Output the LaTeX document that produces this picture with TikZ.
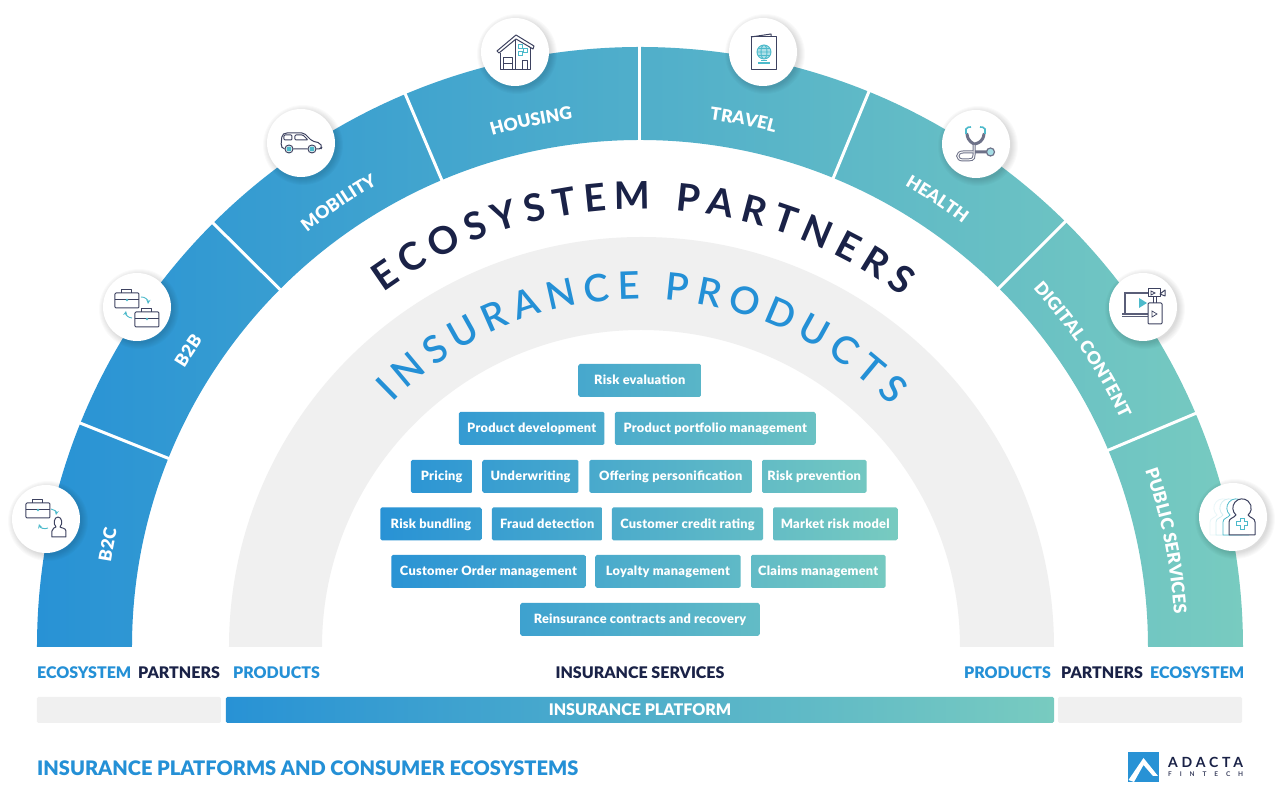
\documentclass[tikz,border=0pt]{standalone}
\usepackage{fontspec}
\setmainfont{Lato}
\newfontfamily\heavyfont{Lato Black}
\newfontfamily\midfont{Lato Semibold}
\usetikzlibrary{decorations.text,calc}
\definecolor{bandl}{HTML}{2892D5}
\definecolor{bandr}{HTML}{78CBC0}
\definecolor{navy}{HTML}{1A2247}
\definecolor{skyblue}{HTML}{2490D6}
\definecolor{greyarc}{HTML}{F0F0F0}
\definecolor{iconink}{HTML}{3D4260}
\definecolor{iconteal}{HTML}{4DBACB}
\tikzstyle{bandtext}=[font=\heavyfont\fontsize{16}{16}\selectfont,inner sep=0pt]
\tikzstyle{iconbg}=[circle,fill=white,minimum size=68pt,inner sep=0pt]
\tikzstyle{iconline}=[iconink,line width=1pt,line join=round]
\tikzstyle{iconaccent}=[iconteal,line width=0.9pt]
\tikzstyle{boxtext}=[text=white,font=\heavyfont\fontsize{12.8}{12}\selectfont\addfontfeature{LetterSpace=2},inner sep=0pt,rounded corners=1.5pt,minimum height=33pt,text height=9pt,text depth=0pt]
\newcommand{\seclabel}[3][532]{% [radius] {middle angle} {text}
\path[decorate,decoration={text along path,text align=center,text={|\heavyfont\fontsize{17.5}{18}\selectfont\color{white}|#3}}] (#2+32:#1) arc (#2+32:#2-32:#1);
}
\newcommand{\iconbubble}[3]{% name, x, y
\foreach \k in {1,...,7} {
  \fill[black,opacity=0.018] (#2+2,#3-2) circle (33+\k);
}
\node[iconbg] (#1) at (#2,#3) {};
}
\newcommand{\prodbox}[5]{% name, left, right, top row y, text
\pgfmathsetmacro{\bx}{(#2+#3)/2-640}
\pgfmathsetmacro{\by}{647-#4-16.5}
\pgfmathsetmacro{\bw}{#3-#2}
\pgfmathsetmacro{\pl}{(#2-380)/5.2}
\pgfmathsetmacro{\pr}{(#3-380)/5.2}
\colorlet{boxleft}{bandr!\pl!bandl}
\colorlet{boxright}{bandr!\pr!bandl}
\node[boxtext,left color=boxleft,right color=boxright,minimum width=\bw pt] (#1) at (\bx,\by) {#5};
}
\newcommand{\drawcase}[2]{% briefcase, lower left corner
\draw[iconline,rounded corners=1pt] (#1,#2) rectangle ++(24,15);
\draw[iconline] (#1,#2+8) -- ++(24,0);
\draw[iconline] (#1+7,#2+15) -- ++(0,3) -- ++(10,0) -- ++(0,-3);
\fill[iconteal] (#1+12,#2+8) circle (1.3);
}
\newcommand{\drawperson}[3]{% colour, x offset, line width
\draw[#1,line width=#3,line join=round,fill=white] (#2-4,-18) -- (#2-4,-5) .. controls (#2-4,-1) and (#2+1,-1) .. (#2+3,2) arc[start angle=229,delta angle=-278,radius=9.2] .. controls (#2+17,-1) and (#2+22,-1) .. (#2+22,-5) -- (#2+22,-18) -- cycle;
}
\begin{document}
\begin{tikzpicture}[x=1pt,y=1pt]
	\useasboundingbox (-640,-163) rectangle (640,647);
	\fill[white] (-640,-163) rectangle (640,647);
	% arcs
	\shade[left color=bandl,right color=bandr] (-603,0) arc (180:0:603 and 600) -- (508,0) arc (0:180:508 and 507) -- cycle;
	\fill[greyarc] (-411,0) arc (180:0:412.5 and 410) -- (320,0) arc (0:180:319 and 317) -- cycle;
	\foreach \a in {22.8,45,67.6,90,113,135.2,158.2} {
		\draw[white,line width=3pt] (\a:505) -- (\a:606);
	}
	\seclabel[536]{169.1}{B2C}
	\seclabel[534]{146.75}{B2B}
	\seclabel{124.15}{MOBILITY}
	\seclabel{101.7}{HOUSING}
	\seclabel{78.9}{TRAVEL}
	\seclabel{56.4}{HEALTH}
	\seclabel{33.9}{DIGITAL CONTENT}
	\seclabel[535]{11.4}{PUBLIC SERVICES}
	\path[decorate,decoration={text along path,text align={fit to path},text={|\bfseries\fontsize{38}{38}\selectfont\color{navy}|ECOSYSTEM PARTNERS}}] (125.9:438) arc (125.9:53.2:438);
	\path[decorate,decoration={text along path,text align={fit to path},text={|\midfont\fontsize{38}{38}\selectfont\color{skyblue}|INSURANCE PRODUCTS}}] (135.3:348) arc (135.3:43.8:348);
	% icons
	\iconbubble{icoBtoC}{-594}{128}
	\iconbubble{icoBtoB}{-503}{340}
	\iconbubble{icoMobility}{-339}{504}
	\iconbubble{icoHousing}{-125}{595}
	\iconbubble{icoTravel}{123}{595}
	\iconbubble{icoHealth}{336}{503}
	\iconbubble{icoDigital}{503}{340}
	\iconbubble{icoPublic}{593}{130}
	\begin{scope}[shift={(icoBtoC.center)}]
		\drawcase{-20}{1}
		\draw[iconaccent,->,>=stealth] (5,10) to[bend left=50] (10,4);
		\draw[iconaccent,->,>=stealth] (2,-9) to[bend left=50] (-7,-5);
		\draw[iconline] (6,-18) -- (6,-12) .. controls (6,-9) and (9,-9) .. (10,-8) .. controls (7,-5) and (8,2) .. (12,2) .. controls (16,2) and (17,-5) .. (14,-8) .. controls (15,-9) and (20,-9) .. (20,-12) -- (20,-18) -- cycle;
	\end{scope}
	\begin{scope}[shift={(icoBtoB.center)}]
		\drawcase{-22}{-1}
		\drawcase{-2}{-20}
		\draw[iconaccent,->,>=stealth] (4,10) to[bend left=50] (11,3);
		\draw[iconaccent,->,>=stealth] (-5,-11) to[bend left=50] (-11,-4);
	\end{scope}
	\begin{scope}[shift={(icoMobility.center)}]
		\draw[iconline,rounded corners=2pt] (-18,-6) -- (-20,-3) -- (-19,8) -- (-16,10) -- (3,10) -- (11,2) -- (19,0) -- (21,-4) -- (20,-6) -- cycle;
		\draw[iconline,rounded corners=1pt] (-17,3) rectangle (-9,8);
		\draw[iconline,rounded corners=1pt] (-6,3) -- (-6,8) -- (2,8) -- (7,3) -- cycle;
		\fill[white] (-12,-6) circle (4.5) (11,-6) circle (4.5);
		\draw[iconline] (-12,-6) circle (4) (11,-6) circle (4);
		\fill[iconteal] (-12,-6) circle (2.5) (11,-6) circle (2.5);
	\end{scope}
	\begin{scope}[shift={(icoHousing.center)}]
		\draw[iconline] (-18,1) -- (1,17) -- (19,6) -- (18,3) -- (1,13) -- (-16,-1) -- cycle;
		\draw[iconline] (-14,-1) -- (-14,-18) -- (16,-18) -- (16,4);
		\draw[iconline] (1,13) -- (1,-18);
		\draw[iconline] (-11,-18) -- (-11,-6) -- (-2,-6) -- (-2,-18);
		\draw[iconline] (-11,-12) -- (-2,-12);
		\draw[iconline] (8,-18) -- (8,-9) -- (13,-9) -- (13,-18);
		\draw[iconaccent] (3,4) rectangle (7,8) (8,0) rectangle (12,4) (3,-3) rectangle (7,1);
	\end{scope}
	\begin{scope}[shift={(icoTravel.center)}]
		\draw[iconline] (-12,15) -- (-12,-18) -- (13,-18) -- (13,15) -- cycle;
		\draw[iconline] (-12,15) -- (8,18) -- (8,15);
		\fill[iconteal!45] (1,0) circle (7);
		\draw[iconaccent] (1,0) circle (7) (1,0) ellipse (3 and 7) (-6,0) -- (8,0) (-5,3.5) -- (7,3.5) (-5,-3.5) -- (7,-3.5);
		\draw[iconaccent,line width=1.2pt] (-5,-11) -- (7,-11);
		\draw[iconaccent,line width=0.5pt] (-2,-8.5) -- (4,-8.5);
	\end{scope}
	\begin{scope}[shift={(icoHealth.center)}]
		\draw[iconink!75,line width=3pt,line cap=round] (-9,10) .. controls (-8,2) and (-3,1) .. (-2,0) -- (-2,-11) .. controls (-2,-16) and (-4,-16) .. (-13,-16) .. controls (-20,-16) and (-20,-8) .. (-13,-8) -- (11,-8);
		\draw[iconink!75,line width=3pt,line cap=round] (8,10) .. controls (7,2) and (2,1) .. (-1,0);
		\draw[white,line width=1pt] (-2,-1) -- (-2,-11) .. controls (-2,-16) and (-4,-16) .. (-13,-16) .. controls (-20,-16) and (-20,-8) .. (-13,-8) -- (-3,-8);
		\draw[iconteal,line width=1.6pt] (-10,10) -- (-10,15) to[bend left=30] (-5,17) (9,10) -- (9,15) to[bend right=30] (4,17);
		\fill[iconteal!50] (14.5,-8) circle (4);
		\draw[iconink!75,line width=1.2pt] (14.5,-8) circle (4);
	\end{scope}
	\begin{scope}[shift={(icoDigital.center)}]
		\draw[iconink!85,line width=1.2pt] (5,14) -- (-18,14) -- (-18,-6);
		\draw[iconink!85,line width=1.2pt] (-21,-7) -- (5,-7) (-21,-9.5) -- (5,-9.5);
		\fill[iconteal] (-4,9) -- (4,4) -- (-4,-1) -- cycle;
		\draw[iconline] (5,10) rectangle (17,18);
		\draw[iconline] (17,13) -- (22,17) -- (22,11) -- cycle;
		\draw[iconink,line width=0.7pt] (8,12) -- (12,14) -- (8,16) -- cycle;
		\draw[iconline] (10,10) -- (10,4) (13,10) -- (13,4);
		\draw[iconline,rounded corners=1pt] (5,-17) rectangle (19,4);
		\draw[iconink,line width=0.7pt] (9,-4) -- (14,-7) -- (9,-10) -- cycle;
	\end{scope}
	\begin{scope}[shift={(icoPublic.center)}]
		\foreach \o/\c in {-19/iconteal!12,-13/iconteal!25,-6/iconteal} {
			\drawperson{\c}{\o}{0.8pt}
		}
		\drawperson{iconink}{0}{1pt}
		\draw[iconteal,line width=0.9pt] (7,-12) -- (11,-12) -- (11,-8.5) -- (14.5,-8.5) -- (14.5,-4.5) -- (11,-4.5) -- (11,-1) -- (7,-1) -- (7,-4.5) -- (3.5,-4.5) -- (3.5,-8.5) -- (7,-8.5) -- cycle;
	\end{scope}
	% product boxes
	\prodbox{riskEval}{578.5}{701}{364}{Risk evaluation}
	\prodbox{prodDev}{459}{604.5}{412}{Product development}
	\prodbox{prodPort}{615}{815.5}{412}{Product portfolio management}
	\prodbox{pricing}{411}{472.5}{460}{Pricing}
	\prodbox{underwriting}{482.5}{578.5}{460}{Underwriting}
	\prodbox{offering}{589.5}{752}{460}{Offering personification}
	\prodbox{riskPrev}{762}{866.5}{460}{Risk prevention}
	\prodbox{riskBundle}{380.5}{481.5}{507.5}{Risk bundling}
	\prodbox{fraud}{492}{602.5}{507.5}{Fraud detection}
	\prodbox{credit}{612}{763}{507.5}{Customer credit rating}
	\prodbox{market}{773}{897.5}{507.5}{Market risk model}
	\prodbox{custOrder}{391.5}{585.5}{555}{Customer Order management}
	\prodbox{loyalty}{595.5}{740.5}{555}{Loyalty management}
	\prodbox{claims}{751}{885.5}{555}{Claims management}
	\prodbox{reinsure}{520.5}{759.5}{603}{Reinsurance contracts and recovery}
	% bottom row
	\node[bandtext,anchor=west,text=skyblue] (ecoL) at (-603,-26) {ECOSYSTEM};
	\node[bandtext,anchor=west,text=navy] (partL) at (-502,-26) {PARTNERS};
	\node[bandtext,anchor=west,text=skyblue] (prodL) at (-407,-26) {PRODUCTS};
	\node[bandtext,text=navy] (services) at (0,-26) {INSURANCE SERVICES};
	\node[bandtext,anchor=west,text=skyblue] (prodR) at (324,-26) {PRODUCTS};
	\node[bandtext,anchor=west,text=navy] (partR) at (421,-26) {PARTNERS};
	\node[bandtext,anchor=west,text=skyblue] (ecoR) at (510,-26) {ECOSYSTEM};
	\fill[greyarc,rounded corners=1.5pt] (-603,-50) rectangle (-419,-76);
	\fill[greyarc,rounded corners=1.5pt] (418,-50) rectangle (602,-76);
	\node[bandtext,text=white,left color=bandl,right color=bandr,rounded corners=1.5pt,minimum width=828pt,minimum height=26pt] (platform) at (0,-63) {INSURANCE PLATFORM};
	\node[anchor=west,inner sep=0pt,text=skyblue,font=\heavyfont\fontsize{20}{21}\selectfont] (title) at (-603,-121) {INSURANCE PLATFORMS AND CONSUMER ECOSYSTEMS};
	% logo
	\fill[bandl] (488,-105) rectangle (519,-135);
	\fill[white] (488.5,-133) -- (503.5,-111) -- (518,-129) -- (513,-129) -- (503.5,-118) -- (494,-135) -- cycle;
	\node[anchor=west,inner sep=0pt,text=navy,font=\bfseries\fontsize{14}{14}\selectfont\addfontfeature{LetterSpace=27}] (logoTop) at (528,-115) {ADACTA};
	\node[anchor=west,inner sep=0pt,text=iconink,font=\bfseries\fontsize{6.5}{7}\selectfont\addfontfeature{LetterSpace=122}] (logoBot) at (528,-127) {FINTECH};
\end{tikzpicture}
\end{document}
